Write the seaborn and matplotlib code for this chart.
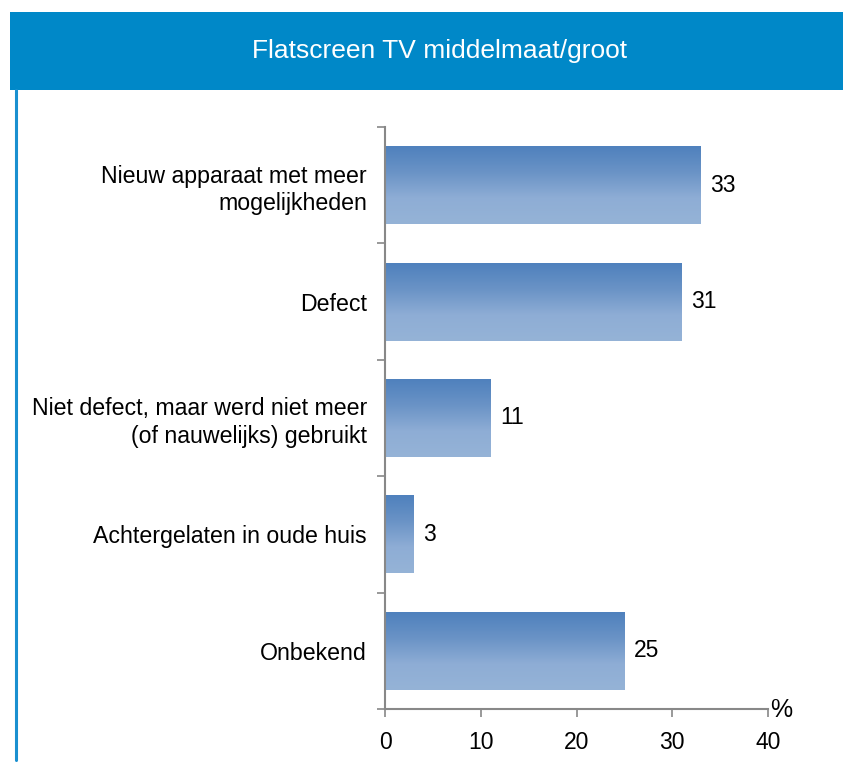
import numpy as np
import pandas as pd
import matplotlib
matplotlib.use('Agg')
import matplotlib.pyplot as plt
import seaborn as sns
from matplotlib.colors import LinearSegmentedColormap
from matplotlib.patches import Rectangle
from matplotlib.lines import Line2D

# data
categories = ['Nieuw apparaat met meer\nmogelijkheden',
              'Defect',
              'Niet defect, maar werd niet meer\n(of nauwelijks) gebruikt',
              'Achtergelaten in oude huis',
              'Onbekend']
values = [33, 31, 11, 3, 25]
x_ticks = [0, 10, 20, 30, 40]
title = 'Flatscreen TV middelmaat/groot'

df = pd.DataFrame({'reden': categories, 'pct': values})

sns.set_style('white')
plt.rcParams['font.family'] = ['Liberation Sans', 'DejaVu Sans']
plt.rcParams['text.color'] = 'black'

fig = plt.figure(figsize=(8.43, 7.62), dpi=100)
ax = fig.add_axes([385/843, 1 - 709/762, (768 - 385)/843, (709 - 127)/762])

sns.barplot(x='pct', y='reden', data=df, ax=ax, orient='h', width=0.67,
            color='#4f81bd', saturation=1)

# vertical gradient fill on each bar (dark top, light bottom)
grad = LinearSegmentedColormap.from_list('g', ['#4f81bd', '#6a93c6', '#8eadd5', '#95b3d7'])
img = np.linspace(0, 1, 100).reshape(-1, 1)
for p in ax.patches:
    x0, y0 = p.get_x(), p.get_y()
    w, h = p.get_width(), p.get_height()
    p.set_facecolor('none')
    p.set_edgecolor('none')
    # y axis is inverted, so y0 is the top edge
    im = ax.imshow(img, cmap=grad, aspect='auto', extent=(x0, x0 + w, y0 + h, y0),
                   origin='upper', zorder=2)
    im.set_clip_path(p)
    ax.text(x0 + w + 1.0, y0 + h / 2, '{}'.format(int(round(w))), va='center', ha='left',
            fontsize=16.5, color='black')

ax.set_xlim(0, 40)
ax.set_ylim(len(categories) - 0.5, -0.5)
ax.set_xticks(x_ticks)
ax.set_xticklabels([str(t) for t in x_ticks], fontsize=16.5, color='black')
ax.set_yticks(range(len(categories)))
ax.set_yticklabels(categories, fontsize=16.7, linespacing=1.25, color='black')
ax.set_yticks(np.arange(-0.5, len(categories), 1), minor=True)
ax.tick_params(axis='y', which='major', left=True, length=0, pad=13)
ax.tick_params(axis='y', which='minor', left=True, length=6, color='#888888', width=1.2,
               direction='out')
ax.tick_params(axis='x', bottom=True, length=6, color='#888888', width=1.2, direction='out',
               pad=10)
ax.set_xlabel('')
ax.set_ylabel('')

for s in ['top', 'right']:
    ax.spines[s].set_visible(False)
for s in ['left', 'bottom']:
    ax.spines[s].set_color('#888888')
    ax.spines[s].set_linewidth(1.5)

ax.text(1.005, -0.002, '%', transform=ax.transAxes, ha='left', va='center', fontsize=18)

# title banner and left border
blue = '#0088c8'
fig.patches.append(Rectangle((10/843, 1 - 90/762), 1, (90 - 12)/762, transform=fig.transFigure,
                             facecolor=blue, edgecolor='none', zorder=0))
fig.lines.append(Line2D([16/843, 16/843], [0.003, 1 - 90/762], transform=fig.transFigure,
                        color='#1a90d0', linewidth=2.2))
fig.text(440/843, 1 - 51/762, title, ha='center', va='center', color='white', fontsize=19)

fig.savefig('out.png', dpi=100)
